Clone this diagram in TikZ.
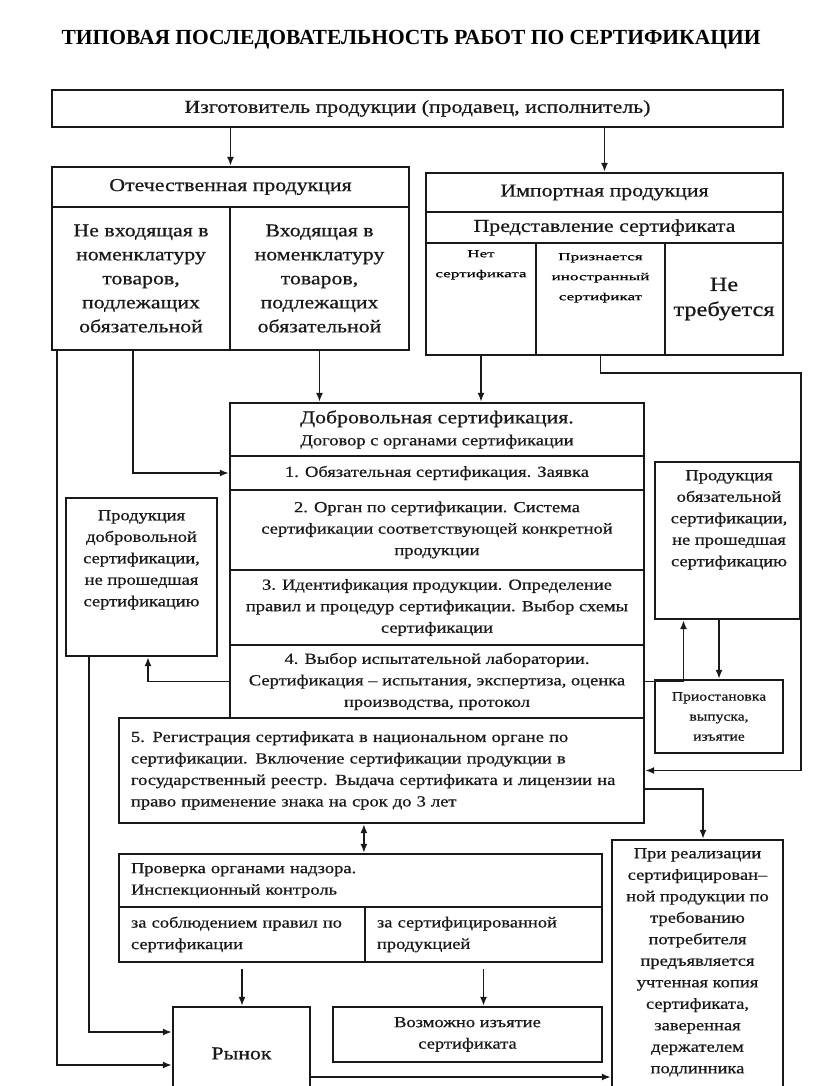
\documentclass[tikz,border=0pt]{standalone}
\usepackage{fontspec}
\setmainfont{Liberation Serif}[FakeStretch=1.2, FakeBold=0.6]
\newfontfamily\titlefont{Liberation Serif}
\newfontfamily\widefont{Liberation Serif}[FakeStretch=1.6, FakeBold=0.6]
\usetikzlibrary{arrows.meta}
\usetikzlibrary{positioning}
\newcommand\szbig{\fontsize{18.2}{24}\selectfont}
\newcommand\szbody{\fontsize{15.4}{21.5}\selectfont}
\newcommand\szsmall{\fontsize{13}{20}\selectfont}
\newcommand\sztiny{\widefont\fontsize{10.7}{20}\selectfont}
\newcommand\szlarge{\fontsize{20.3}{25}\selectfont}
\tikzstyle{every node}+=[inner sep=0pt]
\tikzstyle{cell}=[draw=black!90, line width=2.2pt, align=center, font=\szbody, text=black!90]
\tikzstyle{leftcell}=[cell, align=left, inner xsep=12pt]
\tikzstyle{link}=[draw=black!90, line width=1.9pt, -{Latex[length=9pt,width=7pt]}]
\tikzstyle{twoway}=[link, {Latex[length=9pt,width=7pt]}-{Latex[length=9pt,width=7pt]}]

\begin{document}
\begin{tikzpicture}[x=1pt,y=-1pt]
        \useasboundingbox (0,0) rectangle (816,1086);
        \fill [white] (0,0) rectangle (816,1086);
        \node [font=\titlefont\bfseries\fontsize{21.5}{26}\selectfont] (title) at (411,40) {ТИПОВАЯ ПОСЛЕДОВАТЕЛЬНОСТЬ РАБОТ ПО СЕРТИФИКАЦИИ};
        % producer
        \node [cell, font=\szbig, minimum width=731, minimum height=37] (maker) at (417.5,108.5) {Изготовитель продукции (продавец, исполнитель)};
        % domestic products
        \node [cell, font=\szbig, minimum width=357, minimum height=40] (dom) at (230.5,187) {Отечественная продукция};
        \node [cell, font=\szbig, minimum width=178, minimum height=143] (domA) at (141,278.5) {Не входящая в\\номенклатуру\\товаров,\\подлежащих\\обязательной};
        \node [cell, font=\szbig, minimum width=179, minimum height=143] (domB) at (319.5,278.5) {Входящая в\\номенклатуру\\товаров,\\подлежащих\\обязательной};
        % imported products
        \node [cell, font=\szbig, minimum width=357, minimum height=39] (imp) at (604.5,192.5) {Импортная продукция};
        \node [cell, font=\szbig, minimum width=357, minimum height=31] (impcert) at (604.5,227.5) {Представление сертификата};
        \node [cell, minimum width=110, minimum height=112] (impA) at (481,299) {};
        \node [font=\sztiny, align=center, anchor=north] (impAtext) at (481,250) {Нет\\сертификата};
        \node [cell, minimum width=129, minimum height=112] (impB) at (600.5,299) {};
        \node [font=\sztiny, align=center, anchor=north] (impBtext) at (600.5,253) {Признается\\иностранный\\сертификат};
        \node [cell, font=\szlarge, minimum width=118, minimum height=112] (impC) at (724,299) {Не\\требуется};
        % certification steps
        \node [cell, font=\fontsize{18.2}{22}\selectfont, minimum width=414, minimum height=53] (vol) at (437,429.5) {Добровольная сертификация.\\{\szbody Договор с органами сертификации}};
        \node [cell, minimum width=414, minimum height=34] (s1) at (437,473) {1. Обязательная сертификация. Заявка};
        \node [cell, minimum width=414, minimum height=80] (s2) at (437,530) {2. Орган по сертификации. Система\\сертификации соответствующей конкретной\\продукции};
        \node [cell, minimum width=414, minimum height=75] (s3) at (437,607.5) {3. Идентификация продукции. Определение\\правил и процедур сертификации. Выбор схемы\\сертификации};
        \node [cell, minimum width=414, minimum height=73] (s4) at (437,681.5) {4. Выбор испытательной лаборатории.\\Сертификация – испытания, экспертиза, оценка\\производства, протокол};
        \node [leftcell, text width=501, minimum width=525, minimum height=105] (s5) at (381.5,770.5) {5. Регистрация сертификата в национальном органе по\\сертификации. Включение сертификации продукции в\\государственный реестр. Выдача сертификата и лицензии на\\право применение знака на срок до 3 лет};
        % rejected products
        \node [cell, minimum width=151, minimum height=158] (failvol) at (141.5,577) {};
        \node [font=\szbody, align=center, anchor=north, text=black!90] (failvoltext) at (141.5,510) {Продукция\\добровольной\\сертификации,\\не прошедшая\\сертификацию};
        \node [cell, minimum width=145, minimum height=157] (failmand) at (727.5,540.5) {};
        \node [font=\szbody, align=center, anchor=north, text=black!90] (failmandtext) at (729,470) {Продукция\\обязательной\\сертификации,\\не прошедшая\\сертификацию};
        \node [cell, font=\szsmall, minimum width=128, minimum height=73] (stop) at (719,716.5) {Приостановка\\выпуска,\\изъятие};
        % inspection
        \node [leftcell, text width=459, minimum width=483, minimum height=53] (insp) at (360.5,880.5) {Проверка органами надзора.\\Инспекционный контроль};
        \node [leftcell, text width=222, minimum width=246, minimum height=55] (inspA) at (242,934.5) {за соблюдением правил по\\сертификации};
        \node [leftcell, text width=213, minimum width=237, minimum height=55] (inspB) at (483.5,934.5) {за сертифицированной\\продукцией};
        % market
        \node [cell, font=\szbig, minimum width=137, minimum height=93] (market) at (241.5,1053.5) {Рынок};
        \node [cell, minimum width=269, minimum height=55] (recall) at (467.5,1034.5) {Возможно изъятие\\сертификата};
        \node [cell, minimum width=171, minimum height=270] (sale) at (697.5,975) {};
        \node [font=\szbody, align=center, anchor=north, text=black!90] (saletext) at (697.5,848) {При реализации\\сертифицирован–\\ной продукции по\\требованию\\потребителя\\предъявляется\\учтенная копия\\сертификата,\\заверенная\\держателем\\подлинника};
        % connectors
        \draw [link] (maker.south -| dom.north) -- (dom.north);
        \draw [link] (maker.south -| imp.north) -- (imp.north);
        \draw [link] (domB.south) -- (domB.south |- vol.north);
        \draw [link] (impA.south) -- (impA.south |- vol.north);
        \draw [link] ([xshift=-8pt]domA.south) |- (s1.west);
        \draw [link] ([xshift=6pt]domA.south west) |- ([yshift=-11.5pt]market.west);
        \draw [link] ([xshift=24pt]failvol.south west) |- ([yshift=21.5pt]market.west);
        \draw [link] (impB.south) -- ++(0,17) -| (failmand.north east) -- (failmand.south east) |- (s5.east);
        \draw [link] (s4.west) -| ([xshift=6.5pt]failvol.south);
        \draw [link] (s4.east) -| ([xshift=-44pt]failmand.south);
        \draw [link] (stop.north |- failmand.south) -- (stop.north);
        \draw [link] ([yshift=-18.5pt]s5.east) -| ([xshift=5.5pt]sale.north);
        \draw [twoway] (s5.south -| inspB.north west) -- (insp.north -| inspB.north west);
        \draw [link] ([yshift=-6pt]inspA.south) -- (inspA.south |- market.north);
        \draw [link] ([yshift=-6pt]inspB.south) -- (inspB.south |- recall.north);
        \draw [link] ([yshift=-23.5pt]market.east) -- ([yshift=-23.5pt]market.east -| sale.west);
\end{tikzpicture}
\end{document}
